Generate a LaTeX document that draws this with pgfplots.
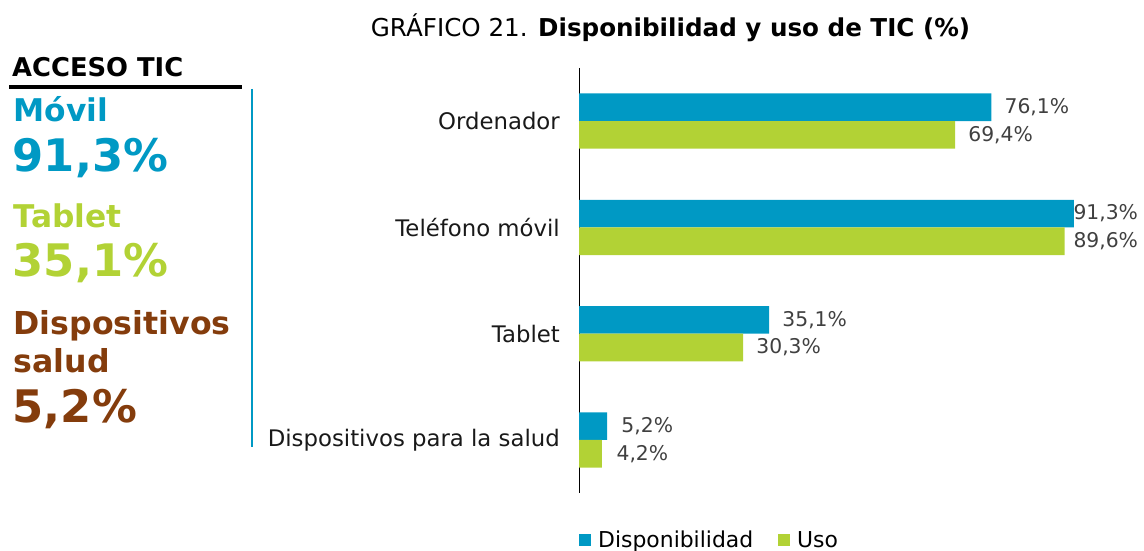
\documentclass[border=0pt]{standalone}
\usepackage{fontspec}
\setmainfont{DejaVu Sans}
\usepackage{pgfplots}
\pgfplotsset{compat=1.18}
\definecolor{cblue}{RGB}{0,153,196}
\definecolor{cgreen}{RGB}{178,210,53}
\definecolor{cbrown}{RGB}{132,60,12}
\definecolor{lblgray}{RGB}{64,64,64}
\newcommand{\fs}[1]{\fontsize{#1pt}{#1pt}\selectfont}
\begin{document}
\begin{tikzpicture}
\path[use as bounding box] (0,0) rectangle (1144pt,551pt);
% title
\node[anchor=base, inner sep=0pt] at (670.5pt,514pt) {\fs{24.6}GRÁFICO 21. \textbf{Disponibilidad y uso de TIC (\%)}};
% left panel
\node[anchor=base west, inner sep=0pt] at (12pt,474pt) {\fs{25.8}\textbf{ACCESO TIC}};
\draw[line width=4pt, black] (9pt,464pt) -- (242pt,464pt);
\draw[line width=2pt, cblue] (252pt,462pt) -- (252pt,104pt);
\node[anchor=base west, inner sep=0pt, text=cblue] at (13.5pt,429pt) {\fs{31.3}\textbf{Móvil}};
\node[anchor=base west, inner sep=0pt, text=cblue] at (12.5pt,379pt) {\fs{44.8}\textbf{91,3\%}};
\node[anchor=base west, inner sep=0pt, text=cgreen] at (13.5pt,323pt) {\fs{31.3}\textbf{Tablet}};
\node[anchor=base west, inner sep=0pt, text=cgreen] at (12.5pt,274pt) {\fs{44.8}\textbf{35,1\%}};
\node[anchor=base west, inner sep=0pt, text=cbrown] at (13.5pt,216pt) {\fs{31.6}\textbf{Dispositivos}};
\node[anchor=base west, inner sep=0pt, text=cbrown] at (13.5pt,178pt) {\fs{31.6}\textbf{salud}};
\node[anchor=base west, inner sep=0pt, text=cbrown] at (12.5pt,128pt) {\fs{44.8}\textbf{5,2\%}};
\begin{axis}[
  at={(579pt,58pt)}, anchor=south west,
  scale only axis, width=542pt, height=425pt,
  xmin=0, xmax=100, ymin=-0.5, ymax=3.5, y dir=reverse,
  axis x line=none, axis y line=left,
  y axis line style={-, black, line width=1pt},
  ytick={0,1,2,3},
  yticklabels={Ordenador, Teléfono móvil, Tablet, Dispositivos para la salud},
  major tick length=0pt,
  yticklabel style={font=\fs{22.8}, inner sep=0pt, xshift=-19pt, text=black!90},
  /pgf/number format/assume math mode=true,
  clip=false,
  legend style={at={(0,-0.1106)}, anchor=west, draw=none, fill=none, inner sep=0pt,
    legend columns=2, font=\fs{21.9},
    /tikz/every odd column/.append style={column sep=5pt},
    /tikz/every even column/.append style={column sep=23pt}},
  legend image code/.code={\fill[#1] (0pt,-6pt) rectangle (12pt,6pt);},
]
\addplot[xbar, bar width=0.26, bar shift=0pt, fill=cblue, draw=none]
  coordinates {(76.1,-0.13) (91.3,0.87) (35.1,1.87) (5.2,2.87)};
\addlegendentry{Disponibilidad}
\addplot[xbar, bar width=0.26, bar shift=0pt, fill=cgreen, draw=none]
  coordinates {(69.4,0.13) (89.6,1.13) (30.3,2.13) (4.2,3.13)};
\addlegendentry{Uso}
\addplot[draw=none, mark=none, forget plot, point meta=\thisrow{v},
  nodes near coords={\pgfmathprintnumber[fixed, fixed zerofill, precision=1, use comma, assume math mode=true]{\pgfplotspointmeta}\%},
  nodes near coords style={anchor=west, inner sep=0pt, font=\fs{20.3}, text=lblgray}]
  table {
lx y v
78.5 -0.13 76.1
71.8 0.13 69.4
91.2 0.87 91.3
91.2 1.13 89.6
37.5 1.87 35.1
32.7 2.13 30.3
7.8 2.87 5.2
6.9 3.13 4.2
};
\end{axis}
\end{tikzpicture}
\end{document}
